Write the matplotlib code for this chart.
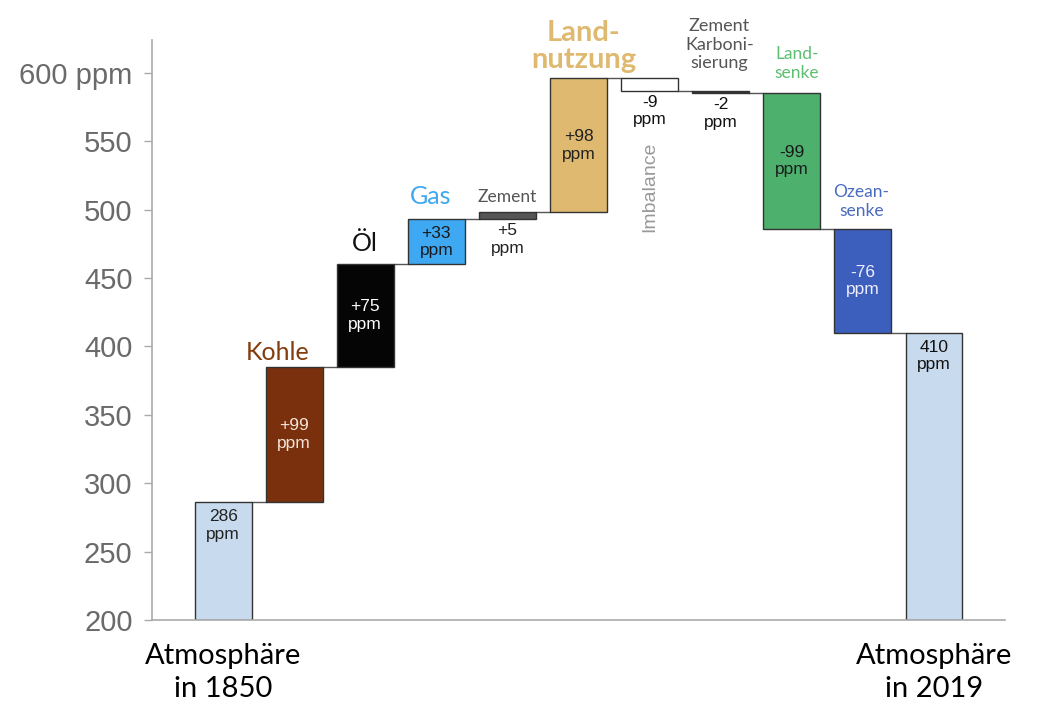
import matplotlib.pyplot as plt
import numpy as np

# waterfall data (ppm)
categories = ["Atmosphäre 1850", "Kohle", "Öl", "Gas", "Zement", "Landnutzung",
              "Imbalance", "Zement Karbonisierung", "Landsenke", "Ozeansenke", "Atmosphäre 2019"]
changes = [286, 99, 75, 33, 5, 98, -9, -2, -99, -76, 410]
is_total = [True, False, False, False, False, False, False, False, False, False, True]
value_labels = ["286\nppm", "+99\nppm", "+75\nppm", "+33\nppm", "+5\nppm", "+98\nppm",
                "-9\nppm", "-2\nppm", "-99\nppm", "-76\nppm", "410\nppm"]
bar_colors = ["#c8dbee", "#7b300d", "#050505", "#3ea8f2", "#555555", "#dfb96f",
              "#ffffff", "#333333", "#4eb06d", "#3c5fbe", "#c8dbee"]
label_colors = ["#222222", "#f3e6d8", "#ffffff", "#1a1a1a", "#222222", "#222222",
                "#111111", "#111111", "#1a1a1a", "#eeeeff", "#111111"]
yticks = [200, 250, 300, 350, 400, 450, 500, 550, 600]
yticklabels = ["200", "250", "300", "350", "400", "450", "500", "550", "600 ppm"]

# compute bar bottoms / tops
bottoms, tops = [], []
level = 0
for c, tot in zip(changes, is_total):
    if tot:
        bottoms.append(200)
        tops.append(c)
        level = c
    else:
        bottoms.append(level)
        tops.append(level + c)
        level = level + c
bottoms = np.array(bottoms, dtype=float)
tops = np.array(tops, dtype=float)
lo = np.minimum(bottoms, tops)
hi = np.maximum(bottoms, tops)

fig = plt.figure(figsize=(10.39, 7.05), dpi=100)
ax = fig.add_axes([0.1463, 0.1206, 0.821, 0.8227])

x = np.arange(len(categories))
w = 0.8
ax.bar(x, hi - lo, bottom=lo, width=w, color=bar_colors, edgecolor="#333333",
       linewidth=1.0, zorder=2)

# connector lines
for i in range(len(x) - 1):
    lvl = tops[i]
    ax.plot([x[i] + w / 2, x[i + 1] - w / 2], [lvl, lvl], color="#555555", lw=1.0, zorder=1)

# value labels
for i, lab in enumerate(value_labels):
    small = (hi[i] - lo[i]) < 20
    if small:
        ax.text(x[i], lo[i] - 3, lab, ha="center", va="top", fontsize=12.5,
                color=label_colors[i], family="Liberation Sans", linespacing=1.2)
    elif is_total[i]:
        ax.text(x[i], hi[i] - 5, lab, ha="center", va="top", fontsize=12.5,
                color=label_colors[i], family="Liberation Sans", linespacing=1.2)
    else:
        ax.text(x[i], (lo[i] + hi[i]) / 2, lab, ha="center", va="center", fontsize=12.5,
                color=label_colors[i], family="Liberation Sans", linespacing=1.2)

# category annotations
fam = "Lato"
ax.text(x[1] - 0.23, 387, "Kohle", ha="center", va="bottom", fontsize=18, color="#843c0c", family=fam)
ax.text(x[2], 467, "Öl", ha="center", va="bottom", fontsize=18, color="#111111", family=fam)
ax.text(x[3] - 0.08, 501, "Gas", ha="center", va="bottom", fontsize=18, color="#3ea8f2", family=fam)
ax.text(x[4], 503, "Zement", ha="center", va="bottom", fontsize=12.5, color="#555555", family=fam)
ax.text(x[5] + 0.07, 600, "Land-\nnutzung", ha="center", va="bottom", fontsize=21, color="#dfb96f",
        family=fam, fontweight="bold", linespacing=1.05)
ax.text(x[6], 517, "Imbalance", ha="center", va="center", fontsize=14, color="#999999",
        family="Liberation Sans", rotation=90)
ax.text(x[7] - 0.02, 601, "Zement\nKarboni-\nsierung", ha="center", va="bottom", fontsize=13, color="#555555",
        family=fam, linespacing=1.2)
ax.text(x[8] + 0.07, 594, "Land-\nsenke", ha="center", va="bottom", fontsize=12.5, color="#5cbf72",
        family=fam, linespacing=1.25)
ax.text(x[9] - 0.02, 493, "Ozean-\nsenke", ha="center", va="bottom", fontsize=12.5, color="#4a6bc4",
        family=fam, linespacing=1.25)

# bottom labels
ax.text(x[0], 183, "Atmosphäre\nin 1850", ha="center", va="top", fontsize=21, color="#000000",
        family=fam, linespacing=1.3)
ax.text(x[10], 183, "Atmosphäre\nin 2019", ha="center", va="top", fontsize=21, color="#000000",
        family=fam, linespacing=1.3)

ax.set_xlim(-1.0, 11.0)
ax.set_ylim(200, 624)
ax.set_xticks([])
ax.set_yticks(yticks)
ax.set_yticklabels(yticklabels, fontsize=21, color="#6a6a6a", family="Liberation Sans")
ax.tick_params(axis="y", length=6, width=1, color="#aaaaaa", pad=8)
for s in ["top", "right"]:
    ax.spines[s].set_visible(False)
ax.spines["left"].set_color("#aaaaaa")
ax.spines["bottom"].set_color("#aaaaaa")
ax.spines["left"].set_linewidth(1.2)
ax.spines["bottom"].set_linewidth(1.2)

fig.savefig("out.png", dpi=100)
